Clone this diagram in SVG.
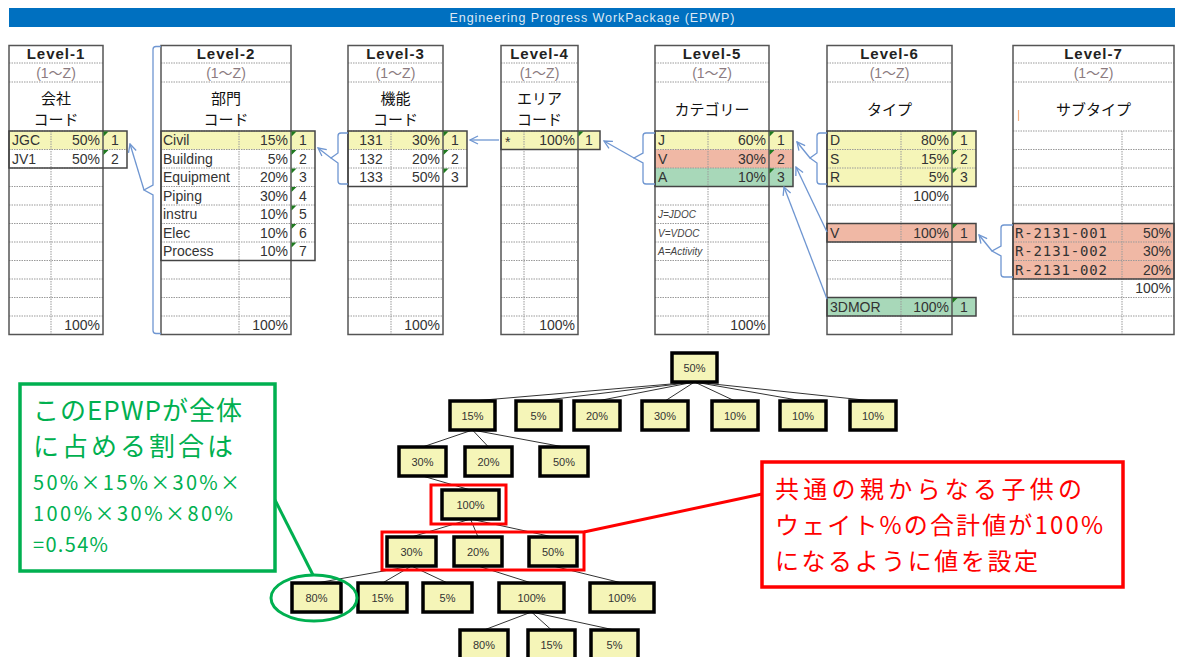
<svg xmlns="http://www.w3.org/2000/svg" width="1178" height="657" viewBox="0 0 1178 657">
<defs>
<style>
.tb{fill:none;stroke:#555;stroke-width:1.5}
.grp{fill:none;stroke:#444;stroke-width:1.5}
.dl{fill:none;stroke:#9a9a9a;stroke-width:1;stroke-dasharray:1.5 1}
.y{fill:#F5F5B8}.s{fill:#F0B8A5}.g{fill:#A8D8B9}
.tri{fill:#1f7a1f}
.hd{font-family:"Liberation Sans",sans-serif;font-weight:bold;font-size:15px;letter-spacing:1px;text-anchor:middle;fill:#222}
.rg{font-family:"Liberation Sans","Noto Sans CJK JP",sans-serif;font-size:14px;text-anchor:middle;fill:#8b7b80}
.big{font-family:"Noto Sans CJK JP",sans-serif;font-size:15px;text-anchor:middle;fill:#111}
.d{font-family:"Liberation Sans",sans-serif;font-size:14px;fill:#333}
.r{text-anchor:end}.c{text-anchor:middle}
.it{font-family:"Liberation Sans",sans-serif;font-size:10px;font-style:italic;fill:#444}
.code{font-family:"DejaVu Sans Mono",monospace;font-size:14px;fill:#333}
.bl{fill:none;stroke:#6F96D1;stroke-width:1.3}
.ar{fill:none;stroke:#6F96D1;stroke-width:1.3;marker-end:url(#ah)}
.nd{fill:#F5F5B8;stroke:#000;stroke-width:3.5}
.nt{font-family:"Liberation Sans",sans-serif;font-size:11px;text-anchor:middle;fill:#333}
.tl{stroke:#333;stroke-width:1}
.gt{font-family:"Noto Sans CJK JP",sans-serif;fill:#00B050}
.rt{font-family:"Noto Sans CJK JP",sans-serif;fill:#FF0000;font-size:24px}
</style>
<marker id="ah" viewBox="0 0 10 10" refX="9" refY="5" markerWidth="10" markerHeight="10" markerUnits="userSpaceOnUse" orient="auto">
<path d="M1,1L9,5L1,9" fill="none" stroke="#6F96D1" stroke-width="1.3"/>
</marker>
</defs>
<rect width="1178" height="657" fill="#fff"/>

<g id="title">
<rect x="9" y="8" width="1166" height="19" fill="#0070C0"/>
<text x="592" y="22" font-family="Liberation Sans,sans-serif" font-size="12.5" fill="#DDE8F4" text-anchor="middle" textLength="285">Engineering Progress WorkPackage (EPWP)</text>
</g>

<g id="level1">
<rect class="y" x="9" y="131" width="118" height="18.5"/>
<path class="dl" d="M9,63H103M9,82H103M9,131H103M9,149.5H127M9,168H103M9,186.5H103M9,205H103M9,223.5H103M9,242H103M9,260.5H103M9,279H103M9,297.5H103M9,316H103M51,131V334.5"/>
<rect class="tb" x="9" y="45.5" width="94" height="289"/>
<rect class="grp" x="9" y="131" width="118" height="37"/>
<path class="tri" d="M103.5,131.5h5l-5,5zM103.5,150h5l-5,5z"/>
<text class="hd" x="56" y="59">Level-1</text>
<text class="rg" x="56" y="78">(1～Z)</text>
<text class="big" x="56" y="104">会社</text>
<text class="big" x="56" y="125">コード</text>
<text class="d" x="12" y="145">JGC</text><text class="d r" x="100" y="145">50%</text><text class="d c" x="115" y="145">1</text>
<text class="d" x="12" y="163.5">JV1</text><text class="d r" x="100" y="163.5">50%</text><text class="d c" x="115" y="163.5">2</text>
<text class="d r" x="100" y="330">100%</text>
</g>

<g id="level2">
<rect class="y" x="161" y="131" width="154" height="18.5"/>
<path class="dl" d="M161,63H291M161,82H291M161,131H291M161,149.5H315M161,168H315M161,186.5H315M161,205H315M161,223.5H315M161,242H315M161,260.5H291M161,279H291M161,297.5H291M161,316H291M239,131V334.5"/>
<rect class="tb" x="161" y="45.5" width="130" height="289"/>
<rect class="grp" x="161" y="131" width="154" height="129.5"/>
<path class="tri" d="M291.5,131.5h5l-5,5zM291.5,150h5l-5,5zM291.5,168.5h5l-5,5zM291.5,187h5l-5,5zM291.5,205.5h5l-5,5zM291.5,224h5l-5,5zM291.5,242.5h5l-5,5z"/>
<text class="hd" x="226" y="59">Level-2</text>
<text class="rg" x="226" y="78">(1～Z)</text>
<text class="big" x="226" y="104">部門</text>
<text class="big" x="226" y="125">コード</text>
<text class="d" x="163" y="145">Civil</text><text class="d r" x="288" y="145">15%</text><text class="d c" x="303" y="145">1</text>
<text class="d" x="163" y="163.5">Building</text><text class="d r" x="288" y="163.5">5%</text><text class="d c" x="303" y="163.5">2</text>
<text class="d" x="163" y="182">Equipment</text><text class="d r" x="288" y="182">20%</text><text class="d c" x="303" y="182">3</text>
<text class="d" x="163" y="200.5">Piping</text><text class="d r" x="288" y="200.5">30%</text><text class="d c" x="303" y="200.5">4</text>
<text class="d" x="163" y="219">instru</text><text class="d r" x="288" y="219">10%</text><text class="d c" x="303" y="219">5</text>
<text class="d" x="163" y="237.5">Elec</text><text class="d r" x="288" y="237.5">10%</text><text class="d c" x="303" y="237.5">6</text>
<text class="d" x="163" y="256">Process</text><text class="d r" x="288" y="256">10%</text><text class="d c" x="303" y="256">7</text>
<text class="d r" x="288" y="330">100%</text>
</g>

<g id="level3">
<rect class="y" x="348" y="131" width="119" height="18.5"/>
<path class="dl" d="M348,63H443M348,82H443M348,131H443M348,149.5H467M348,168H467M348,186.5H443M348,205H443M348,223.5H443M348,242H443M348,260.5H443M348,279H443M348,297.5H443M348,316H443M391,131V334.5"/>
<rect class="tb" x="348" y="45.5" width="95" height="289"/>
<rect class="grp" x="348" y="131" width="119" height="55.5"/>
<path class="tri" d="M443.5,131.5h5l-5,5zM443.5,150h5l-5,5zM443.5,168.5h5l-5,5z"/>
<text class="hd" x="395.5" y="59">Level-3</text>
<text class="rg" x="395.5" y="78">(1～Z)</text>
<text class="big" x="395.5" y="104">機能</text>
<text class="big" x="395.5" y="125">コード</text>
<text class="d c" x="371" y="145">131</text><text class="d r" x="440" y="145">30%</text><text class="d c" x="455" y="145">1</text>
<text class="d c" x="371" y="163.5">132</text><text class="d r" x="440" y="163.5">20%</text><text class="d c" x="455" y="163.5">2</text>
<text class="d c" x="371" y="182">133</text><text class="d r" x="440" y="182">50%</text><text class="d c" x="455" y="182">3</text>
<text class="d r" x="440" y="330">100%</text>
</g>

<g id="level4">
<rect class="y" x="501" y="131" width="99" height="18.5"/>
<path class="dl" d="M501,63H578M501,82H578M501,131H578M501,149.5H578M501,168H578M501,186.5H578M501,205H578M501,223.5H578M501,242H578M501,260.5H578M501,279H578M501,297.5H578M501,316H578M524,131V334.5"/>
<rect class="tb" x="501" y="45.5" width="77" height="289"/>
<rect class="grp" x="501" y="131" width="99" height="18.5"/>
<path class="tri" d="M578.5,131.5h5l-5,5z"/>
<text class="hd" x="539.5" y="59">Level-4</text>
<text class="rg" x="539.5" y="78">(1～Z)</text>
<text class="big" x="539.5" y="104">エリア</text>
<text class="big" x="539.5" y="125">コード</text>
<text class="d" x="505" y="147">*</text><text class="d r" x="575" y="145">100%</text><text class="d c" x="589" y="145">1</text>
<text class="d r" x="575" y="330">100%</text>
</g>

<g id="level5">
<rect class="y" x="655" y="131" width="138" height="18.5"/>
<rect class="s" x="655" y="149.5" width="138" height="18.5"/>
<rect class="g" x="655" y="168" width="138" height="18.5"/>
<path class="dl" d="M655,63H769M655,82H769M655,131H769M655,149.5H793M655,168H793M655,186.5H769M655,205H769M655,223.5H769M655,242H769M655,260.5H769M655,279H769M655,297.5H769M655,316H769M708,131V334.5"/>
<rect class="tb" x="655" y="45.5" width="114" height="289"/>
<rect class="grp" x="655" y="131" width="138" height="55.5"/>
<path class="tri" d="M769.5,131.5h5l-5,5zM769.5,150h5l-5,5zM769.5,168.5h5l-5,5z"/>
<text class="hd" x="712" y="59">Level-5</text>
<text class="rg" x="712" y="78">(1～Z)</text>
<text class="big" x="712" y="115">カテゴリー</text>
<text class="d" x="658" y="145">J</text><text class="d r" x="766" y="145">60%</text><text class="d c" x="781" y="145">1</text>
<text class="d" x="658" y="163.5">V</text><text class="d r" x="766" y="163.5">30%</text><text class="d c" x="781" y="163.5">2</text>
<text class="d" x="658" y="182">A</text><text class="d r" x="766" y="182">10%</text><text class="d c" x="781" y="182">3</text>
<text class="it" x="658" y="218">J=JDOC</text>
<text class="it" x="658" y="236.5">V=VDOC</text>
<text class="it" x="658" y="255">A=Activity</text>
<text class="d r" x="766" y="330">100%</text>
</g>

<g id="level6">
<rect class="y" x="827" y="131" width="149" height="55.5"/>
<rect class="s" x="827" y="223.5" width="149" height="18.5"/>
<rect class="g" x="827" y="297.5" width="149" height="18.5"/>
<path class="dl" d="M827,63H952M827,82H952M827,131H952M827,149.5H976M827,168H976M827,186.5H952M827,205H952M827,223.5H952M827,242H952M827,260.5H952M827,279H952M827,297.5H952M827,316H952M901,131V334.5"/>
<rect class="tb" x="827" y="45.5" width="125" height="289"/>
<rect class="grp" x="827" y="131" width="149" height="55.5"/>
<rect class="grp" x="827" y="223.5" width="149" height="18.5"/>
<rect class="grp" x="827" y="297.5" width="149" height="18.5"/>
<path class="tri" d="M952.5,131.5h5l-5,5zM952.5,150h5l-5,5zM952.5,168.5h5l-5,5zM952.5,224h5l-5,5zM952.5,298h5l-5,5z"/>
<text class="hd" x="889.5" y="59">Level-6</text>
<text class="rg" x="889.5" y="78">(1～Z)</text>
<text class="big" x="889.5" y="115">タイプ</text>
<text class="d" x="830" y="145">D</text><text class="d r" x="949" y="145">80%</text><text class="d c" x="964" y="145">1</text>
<text class="d" x="830" y="163.5">S</text><text class="d r" x="949" y="163.5">15%</text><text class="d c" x="964" y="163.5">2</text>
<text class="d" x="830" y="182">R</text><text class="d r" x="949" y="182">5%</text><text class="d c" x="964" y="182">3</text>
<text class="d r" x="949" y="200.5">100%</text>
<text class="d" x="830" y="237.5">V</text><text class="d r" x="949" y="237.5">100%</text><text class="d c" x="964" y="237.5">1</text>
<text class="d" x="830" y="311.5">3DMOR</text><text class="d r" x="949" y="311.5">100%</text><text class="d c" x="964" y="311.5">1</text>
</g>

<g id="level7">
<rect class="s" x="1013" y="223.5" width="161" height="55.5"/>
<path class="dl" d="M1013,63H1174M1013,82H1174M1013,131H1174M1013,149.5H1174M1013,168H1174M1013,186.5H1174M1013,205H1174M1013,223.5H1174M1013,242H1174M1013,260.5H1174M1013,279H1174M1013,297.5H1174M1013,316H1174M1122,131V334.5"/>
<rect class="tb" x="1013" y="45.5" width="161" height="289"/>
<rect class="grp" x="1013" y="223.5" width="161" height="55.5"/>
<line x1="1018.5" y1="110" x2="1018.5" y2="121" stroke="#F4B183" stroke-width="1.2"/>
<text class="hd" x="1093.5" y="59">Level-7</text>
<text class="rg" x="1093.5" y="78">(1～Z)</text>
<text class="big" x="1093.5" y="115">サブタイプ</text>
<text class="code" x="1015" y="237.5" textLength="92">R-2131-001</text><text class="d r" x="1171" y="237.5">50%</text>
<text class="code" x="1015" y="256" textLength="92">R-2131-002</text><text class="d r" x="1171" y="256">30%</text>
<text class="code" x="1015" y="274.5" textLength="92">R-2131-002</text><text class="d r" x="1171" y="274.5">20%</text>
<text class="d r" x="1171" y="293">100%</text>
</g>

<g id="table-connectors">
<path class="bl" d="M161,46.5H156Q153,46.5 153,49.5V185L144,190L153,195V330.5Q153,333.5 156,333.5H161"/>
<path class="ar" d="M144,190L130,144"/>
<path class="bl" d="M348,133H341Q338,133 338,136V153L331,158L338,163V181Q338,184 341,184H348"/>
<path class="ar" d="M331,158L318,148"/>
<path class="ar" d="M499,140H470"/>
<path class="bl" d="M655,133H646Q643,133 643,136V153L634,158L643,163V181Q643,184 646,184H655"/>
<path class="ar" d="M634,158L604,141"/>
<path class="bl" d="M827,133H820Q817,133 817,136V153L810,158L817,163V181Q817,184 820,184H827"/>
<path class="ar" d="M810,158L797,142"/>
<path class="ar" d="M827,232L796,167"/>
<path class="ar" d="M827,299L784,187"/>
<path class="bl" d="M1013,225H1004Q1001,225 1001,228V246L992,251L1001,256V274Q1001,277 1004,277H1013"/>
<path class="ar" d="M992,251L979,235"/>
</g>

<g id="tree-connectors">
<path class="tl" d="M694.5,382L472.5,401M694.5,382L538.5,401M694.5,382L597,401M694.5,382L665,401M694.5,382L735,401M694.5,382L803,401M694.5,382L873,401M472.5,430L422.5,447M472.5,430L488.5,447M472.5,430L564,447M422.5,476L470.5,490M470.5,519L411.5,537M470.5,519L478,537M470.5,519L553,537M411.5,566L316.5,583M411.5,566L382.5,583M411.5,566L447.5,583M478,566L531.5,583M553,566L622,583M531.5,612L484,630M531.5,612L551.5,630M531.5,612L614.5,630"/>
</g>

<g id="t0"><rect class="nd" x="672" y="353" width="45" height="29"/><text class="nt" x="694.5" y="372">50%</text></g>
<g id="t1a"><rect class="nd" x="450" y="401" width="45" height="29"/><text class="nt" x="472.5" y="420">15%</text></g>
<g id="t1b"><rect class="nd" x="516" y="401" width="45" height="29"/><text class="nt" x="538.5" y="420">5%</text></g>
<g id="t1c"><rect class="nd" x="574" y="401" width="46" height="29"/><text class="nt" x="597" y="420">20%</text></g>
<g id="t1d"><rect class="nd" x="642" y="401" width="46" height="29"/><text class="nt" x="665" y="420">30%</text></g>
<g id="t1e"><rect class="nd" x="712" y="401" width="46" height="29"/><text class="nt" x="735" y="420">10%</text></g>
<g id="t1f"><rect class="nd" x="780" y="401" width="46" height="29"/><text class="nt" x="803" y="420">10%</text></g>
<g id="t1g"><rect class="nd" x="850" y="401" width="46" height="29"/><text class="nt" x="873" y="420">10%</text></g>
<g id="t2a"><rect class="nd" x="399" y="447" width="47" height="29"/><text class="nt" x="422.5" y="466">30%</text></g>
<g id="t2b"><rect class="nd" x="465" y="447" width="47" height="29"/><text class="nt" x="488.5" y="466">20%</text></g>
<g id="t2c"><rect class="nd" x="540" y="447" width="48" height="29"/><text class="nt" x="564" y="466">50%</text></g>
<g id="t3"><rect class="nd" x="442" y="490" width="57" height="29"/><text class="nt" x="470.5" y="509">100%</text></g>
<g id="t4a"><rect class="nd" x="387" y="537" width="49" height="29"/><text class="nt" x="411.5" y="556">30%</text></g>
<g id="t4b"><rect class="nd" x="454" y="537" width="48" height="29"/><text class="nt" x="478" y="556">20%</text></g>
<g id="t4c"><rect class="nd" x="529" y="537" width="48" height="29"/><text class="nt" x="553" y="556">50%</text></g>
<g id="t5a"><rect class="nd" x="292" y="583" width="49" height="29"/><text class="nt" x="316.5" y="602">80%</text></g>
<g id="t5b"><rect class="nd" x="358" y="583" width="49" height="29"/><text class="nt" x="382.5" y="602">15%</text></g>
<g id="t5c"><rect class="nd" x="423" y="583" width="49" height="29"/><text class="nt" x="447.5" y="602">5%</text></g>
<g id="t5d"><rect class="nd" x="499" y="583" width="65" height="29"/><text class="nt" x="531.5" y="602">100%</text></g>
<g id="t5e"><rect class="nd" x="590" y="583" width="64" height="29"/><text class="nt" x="622" y="602">100%</text></g>
<g id="t6a"><rect class="nd" x="460" y="630" width="48" height="30"/><text class="nt" x="484" y="649">80%</text></g>
<g id="t6b"><rect class="nd" x="528" y="630" width="47" height="30"/><text class="nt" x="551.5" y="649">15%</text></g>
<g id="t6c"><rect class="nd" x="591" y="630" width="47" height="30"/><text class="nt" x="614.5" y="649">5%</text></g>

<g id="highlight-red">
<rect x="431" y="485" width="75" height="39" fill="none" stroke="#FF0000" stroke-width="3"/>
<rect x="382" y="532" width="202" height="38" fill="none" stroke="#FF0000" stroke-width="3"/>
<line x1="584" y1="532" x2="762" y2="494" stroke="#FF0000" stroke-width="3"/>
</g>

<g id="note-red">
<rect x="762" y="462" width="361" height="125" fill="#fff" stroke="#FF0000" stroke-width="3.5"/>
<text class="rt" x="775" y="498" textLength="307">共通の親からなる子供の</text>
<text class="rt" x="775" y="534" textLength="328">ウェイト%の合計値が100%</text>
<text class="rt" x="775" y="570" textLength="263">になるように値を設定</text>
</g>

<g id="note-green">
<ellipse cx="314" cy="598" rx="43" ry="23" fill="none" stroke="#00B050" stroke-width="3"/>
<line x1="275" y1="500" x2="313" y2="575" stroke="#00B050" stroke-width="3"/>
<rect x="20" y="384" width="255" height="187" fill="#fff" stroke="#00B050" stroke-width="3.5"/>
<text class="gt" x="33" y="420" font-size="26" textLength="209">このEPWPが全体</text>
<text class="gt" x="33" y="456" font-size="26" textLength="200">に占める割合は</text>
<text class="gt" x="33" y="490" font-size="20" textLength="207">50%×15%×30%×</text>
<text class="gt" x="33" y="521" font-size="20" textLength="200">100%×30%×80%</text>
<text class="gt" x="33" y="552" font-size="20" textLength="75">=0.54%</text>
</g>
</svg>
